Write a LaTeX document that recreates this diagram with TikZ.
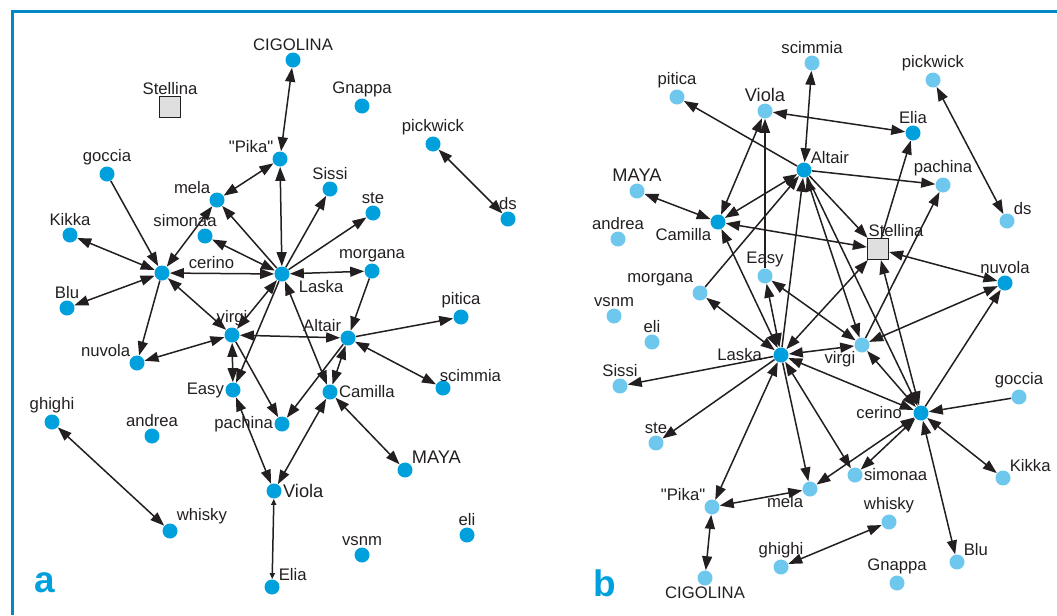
\documentclass[tikz,border=0pt]{standalone}
\usepackage{fontspec}
\setmainfont{Liberation Sans}[Ligatures=TeXOff]
\usetikzlibrary{arrows.meta}

\definecolor{dotblue}{RGB}{0,160,220}
\definecolor{paleblue}{RGB}{110,200,238}
\definecolor{frameblue}{RGB}{0,136,200}
\definecolor{ink}{RGB}{35,31,32}

\tikzset{
	dog/.style={circle, fill=dotblue, inner sep=0pt, minimum size=3mm, label distance=0.2mm},
	pale/.style={dog, fill=paleblue},
	newcomer/.style={draw=ink, fill=gray!25, line width=0.25mm, inner sep=0pt, minimum size=4.2mm},
	every label/.style={text=ink, font=\fontsize{9.5}{10}\selectfont, inner sep=0.5pt},
	big/.style={font=\fontsize{10.4}{11}\selectfont},
	tie/.style={line width=0.3mm, draw=ink},
	mutual/.style={tie, {Triangle[length=2.8mm,width=2mm]}-{Triangle[length=2.8mm,width=2mm]}},
	oneway/.style={tie, -{Triangle[length=2.8mm,width=2mm]}},
	faint/.style={tie, {Triangle[length=1.2mm,width=1mm]}-{Triangle[length=1.2mm,width=1mm]}},
	tag/.style={text=dotblue, font=\bfseries\fontsize{21}{21}\selectfont},
}

\begin{document}
\begin{tikzpicture}[x=0.2mm, y=-0.2mm]
	\useasboundingbox (0,0) rectangle (1057,615);
	\draw[frameblue, line width=0.6mm] (12,615) -- (12,11) -- (1057,11);

	% panel a
	\node[dog, label=above:{CIGOLINA}] (aCIGOLINA) at (293,60) {};
	\node[newcomer, label=above:{Stellina}] (aStellina) at (170,107) {};
	\node[dog, label=above:{Gnappa}] (aGnappa) at (362,106) {};
	\node[dog, label=above:{pickwick}] (apickwick) at (433,144) {};
	\node[dog, label=above:{ds}] (ads) at (508,219) {};
	\node[dog, label=above left:{"Pika"}] (aPika) at (280,159) {};
	\node[dog, label=above:{Sissi}] (aSissi) at (330,189) {};
	\node[dog, label=above:{ste}] (aste) at (373,213) {};
	\node[dog, label=above:{goccia}] (agoccia) at (107,174) {};
	\node[dog, label=above left:{mela}] (amela) at (217,200) {};
	\node[dog, label={[xshift=-4mm]above:simonaa}] (asimonaa) at (205,236) {};
	\node[dog, label=above:{Kikka}] (aKikka) at (70,235) {};
	\node[dog, label={[xshift=4mm, yshift=-0.5mm]above right:cerino}] (acerino) at (162,273) {};
	\node[dog, label={[xshift=2mm]below right:Laska}] (aLaska) at (282,274) {};
	\node[dog, label=above:{morgana}] (amorgana) at (372,271) {};
	\node[dog, label=above:{Blu}] (aBlu) at (67,308) {};
	\node[dog, label=above:{virgi}] (avirgi) at (232,335) {};
	\node[dog, label=above left:{Altair}] (aAltair) at (348,338) {};
	\node[dog, label=above:{pitica}] (apitica) at (461,317) {};
	\node[dog, label=above left:{nuvola}] (anuvola) at (137,363) {};
	\node[dog, label=left:{Easy}] (aEasy) at (233,390) {};
	\node[dog, label=right:{Camilla}] (aCamilla) at (330,392) {};
	\node[dog, label={[xshift=-2mm]above right:scimmia}] (ascimmia) at (443,388) {};
	\node[dog, label=left:{pachina}] (apachina) at (282,424) {};
	\node[dog, label=above:{ghighi}] (aghighi) at (52,422) {};
	\node[dog, label=above:{andrea}] (aandrea) at (152,436) {};
	\node[dog, label={[big]above right:MAYA}] (aMAYA) at (405,470) {};
	\node[dog, label={[big]right:Viola}] (aViola) at (274,491) {};
	\node[dog, label=above right:{whisky}] (awhisky) at (170,531) {};
	\node[dog, label=above:{vsnm}] (avsnm) at (362,555) {};
	\node[dog, label=above:{eli}] (aeli) at (467,535) {};
	\node[dog, label=above right:{Elia}] (aElia) at (272,587) {};
	\node[tag] (taga) at (45,583) {a};

	\draw[mutual] (aCIGOLINA) -- (aPika);
	\draw[mutual] (apickwick) -- (ads);
	\draw[oneway] (agoccia) -- (acerino);
	\draw[mutual] (acerino) -- (aKikka);
	\draw[mutual] (acerino) -- (aBlu);
	\draw[mutual] (acerino) -- (amela);
	\draw[mutual] (amela) -- (aPika);
	\draw[mutual] (aLaska) -- (asimonaa);
	\draw[mutual] (acerino) -- (aLaska);
	\draw[oneway] (aLaska) -- (amela);
	\draw[mutual] (aLaska) -- (aPika);
	\draw[oneway] (aLaska) -- (aSissi);
	\draw[oneway] (aLaska) -- (aste);
	\draw[mutual] (aLaska) -- (amorgana);
	\draw[oneway] (amorgana) -- (aAltair);
	\draw[oneway] (acerino) -- (anuvola);
	\draw[mutual] (acerino) -- (avirgi);
	\draw[mutual] (anuvola) -- (avirgi);
	\draw[mutual] (aLaska) -- (avirgi);
	\draw[oneway] (aLaska) -- (aEasy);
	\draw[mutual] (avirgi) -- (aEasy);
	\draw[oneway] (avirgi) -- (apachina);
	\draw[mutual] (avirgi) -- (aAltair);
	\draw[oneway] (aAltair) -- (apitica);
	\draw[mutual] (aAltair) -- (ascimmia);
	\draw[oneway] (aAltair) -- (apachina);
	\draw[mutual] (aAltair) -- (aCamilla);
	\draw[mutual] (aLaska) -- (aCamilla);
	\draw[mutual] (aCamilla) -- (aMAYA);
	\draw[mutual] (aCamilla) -- (aViola);
	\draw[mutual] (aEasy) -- (aViola);
	\draw[faint] (aViola) -- (aElia);
	\draw[mutual] (aghighi) -- (awhisky);

	% panel b
	\node[pale, label=above:{scimmia}] (bscimmia) at (812,63) {};
	\node[pale, label=above:{pickwick}] (bpickwick) at (933,80) {};
	\node[pale, label=above:{pitica}] (bpitica) at (677,97) {};
	\node[pale, label={[big]above:Viola}] (bViola) at (765,111) {};
	\node[dog, label=above:{Elia}] (bElia) at (913,133) {};
	\node[dog, label=above right:{Altair}] (bAltair) at (804,170) {};
	\node[pale, label={[big]above:MAYA}] (bMAYA) at (637,191) {};
	\node[pale, label=above:{pachina}] (bpachina) at (943,185) {};
	\node[pale, label=above:{andrea}] (bandrea) at (618,239) {};
	\node[pale, label=above right:{ds}] (bds) at (1007,221) {};
	\node[dog, label=below left:{Camilla}] (bCamilla) at (718,222) {};
	\node[newcomer, label={[xshift=3.6mm, label distance=0mm]above:Stellina}] (bStellina) at (878,249) {};
	\node[pale, label=above:{Easy}] (bEasy) at (765,276) {};
	\node[dog, label=above:{nuvola}] (bnuvola) at (1005,283) {};
	\node[pale, label=above left:{morgana}] (bmorgana) at (700,293) {};
	\node[pale, label=above:{vsnm}] (bvsnm) at (614,316) {};
	\node[pale, label=above:{eli}] (beli) at (652,342) {};
	\node[dog, label={[label distance=2mm]left:Laska}] (bLaska) at (781,355) {};
	\node[pale, label=below left:{virgi}] (bvirgi) at (862,345) {};
	\node[pale, label=above:{Sissi}] (bSissi) at (620,386) {};
	\node[pale, label=above:{goccia}] (bgoccia) at (1019,397) {};
	\node[dog, label={[label distance=2mm]left:cerino}] (bcerino) at (921,413) {};
	\node[pale, label=above:{ste}] (bste) at (656,443) {};
	\node[pale, label=right:{simonaa}] (bsimonaa) at (855,475) {};
	\node[pale, label=above right:{Kikka}] (bKikka) at (1003,478) {};
	\node[pale, label=below left:{mela}] (bmela) at (810,489) {};
	\node[pale, label=above left:{"Pika"}] (bPika) at (712,507) {};
	\node[pale, label=above:{whisky}] (bwhisky) at (889,522) {};
	\node[pale, label=above:{ghighi}] (bghighi) at (781,567) {};
	\node[pale, label=above right:{Blu}] (bBlu) at (957,562) {};
	\node[pale, label=below:{CIGOLINA}] (bCIGOLINA) at (705,578) {};
	\node[pale, label=above:{Gnappa}] (bGnappa) at (897,583) {};
	\node[tag] (tagb) at (605,583) {b};

	\draw[mutual] (bscimmia) -- (bAltair);
	\draw[mutual] (bpickwick) -- (bds);
	\draw[oneway] (bAltair) -- (bpitica);
	\draw[mutual] (bViola) -- (bElia);
	\draw[mutual] (bViola) -- (bCamilla);
	\draw[oneway] (bEasy) -- (bViola);
	\draw[mutual] (bAltair) -- (bCamilla);
	\draw[mutual] (bMAYA) -- (bCamilla);
	\draw[mutual] (bCamilla) -- (bStellina);
	\draw[oneway] (bAltair) -- (bStellina);
	\draw[oneway] (bAltair) -- (bpachina);
	\draw[oneway] (bStellina) -- (bElia);
	\draw[mutual] (bStellina) -- (bnuvola);
	\draw[mutual] (bLaska) -- (bCamilla);
	\draw[mutual] (bLaska) -- (bEasy);
	\draw[oneway] (bLaska) -- (bAltair);
	\draw[oneway] (bmorgana) -- (bAltair);
	\draw[mutual] (bLaska) -- (bmorgana);
	\draw[mutual] (bLaska) -- (bStellina);
	\draw[mutual] (bLaska) -- (bvirgi);
	\draw[mutual] (bEasy) -- (bvirgi);
	\draw[mutual] (bAltair) -- (bvirgi);
	\draw[oneway] (bAltair) -- (bcerino);
	\draw[mutual] (bStellina) -- (bcerino);
	\draw[oneway] (bvirgi) -- (bpachina);
	\draw[mutual] (bnuvola) -- (bvirgi);
	\draw[oneway] (bcerino) -- (bnuvola);
	\draw[oneway] (bLaska) -- (bSissi);
	\draw[oneway] (bLaska) -- (bste);
	\draw[mutual] (bLaska) -- (bPika);
	\draw[oneway] (bLaska) -- (bmela);
	\draw[mutual] (bLaska) -- (bsimonaa);
	\draw[mutual] (bLaska) -- (bcerino);
	\draw[mutual] (bPika) -- (bmela);
	\draw[mutual] (bPika) -- (bCIGOLINA);
	\draw[mutual] (bcerino) -- (bmela);
	\draw[mutual] (bcerino) -- (bsimonaa);
	\draw[mutual] (bcerino) -- (bvirgi);
	\draw[oneway] (bgoccia) -- (bcerino);
	\draw[mutual] (bcerino) -- (bKikka);
	\draw[mutual] (bcerino) -- (bBlu);
	\draw[mutual] (bghighi) -- (bwhisky);
\end{tikzpicture}
\end{document}
